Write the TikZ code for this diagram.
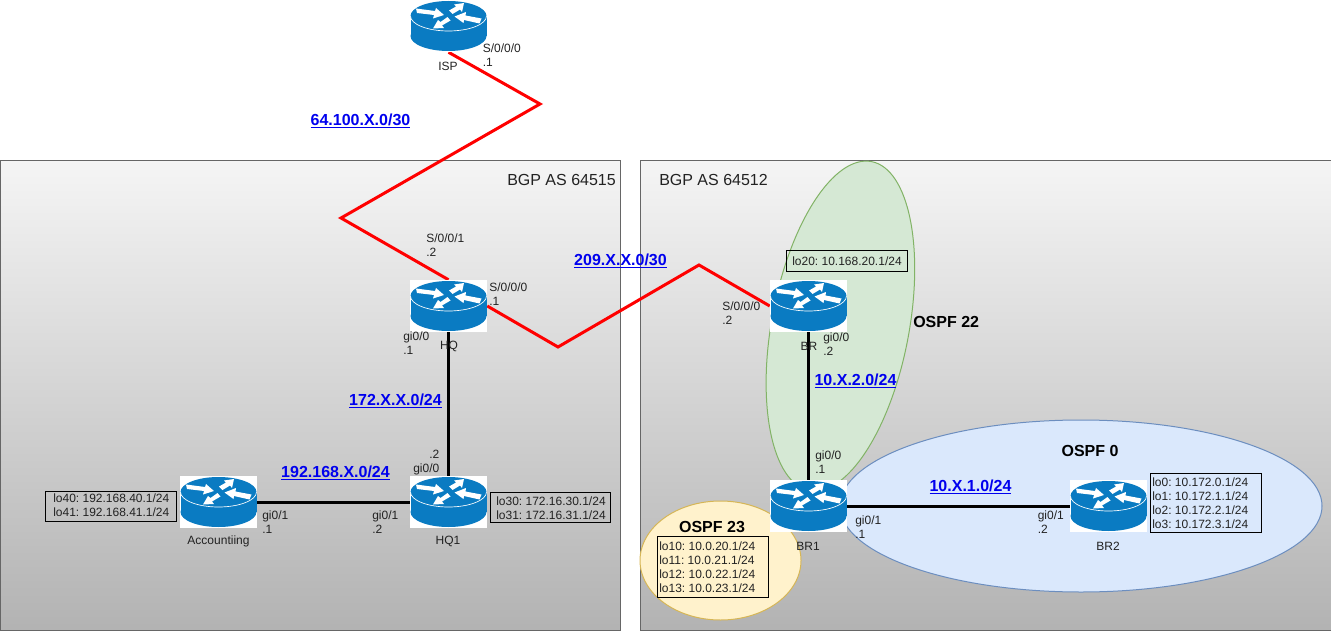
\documentclass[tikz,border=0pt]{standalone}
\usepackage{fontspec}
\setmainfont{Liberation Sans}
\usetikzlibrary{shapes.geometric,backgrounds}
\definecolor{routerblue}{HTML}{0A7BC2}
\definecolor{txt}{HTML}{222222}
\definecolor{netblue}{HTML}{0000EE}
\definecolor{greenfill}{HTML}{D5E8D4}
\definecolor{greenline}{HTML}{82B366}
\definecolor{bluefill}{HTML}{DAE8FC}
\definecolor{blueline}{HTML}{6C8EBF}
\definecolor{yellowfill}{HTML}{FFF2CC}
\definecolor{yellowline}{HTML}{D6B656}
\pgfdeclarelayer{zones}
\pgfdeclarelayer{links}
\pgfsetlayers{zones,links,main}
\frenchspacing
\tikzset{
  aspanel/.style={draw=black!60,line width=0.75pt,rectangle,inner sep=0pt,top color=white!96!black,bottom color=black!30,anchor=north west},
  ospfzone/.style={ellipse,inner sep=0pt,line width=0.75pt},
  routerbox/.style={rectangle,fill=white,minimum width=57.75pt,minimum height=39pt,inner sep=0pt},
  rarrow/.style={fill=white,draw=none},
  wanlink/.style={draw=red,line width=2.25pt,line join=miter},
  lanlink/.style={draw=black,line width=2.25pt},
  iflabel/.style={font=\fontsize{9}{10.5}\selectfont,text=txt,align=left,anchor=north west,inner sep=0pt},
  routername/.style={font=\fontsize{9}{10.5}\selectfont,text=txt,inner sep=0pt},
  netlabel/.style={font=\fontsize{12}{14}\selectfont\bfseries,text=netblue,inner sep=0pt},
  arealabel/.style={font=\fontsize{12}{14}\selectfont\bfseries,text=black,inner sep=0pt},
  aslabel/.style={font=\fontsize{12}{14}\selectfont,text=txt,anchor=west,inner sep=0pt},
  loopbox/.style={draw=black,line width=0.75pt,rectangle,inner sep=0pt,anchor=north west},
  routerglyph/.pic={
    \fill[routerblue] (0,10) ellipse [x radius=38,y radius=15];
    \fill[routerblue] (-38,-10) rectangle (38,10);
    \fill[routerblue] (0,-10) ellipse [x radius=38,y radius=15];
    \draw[white,line width=0.5pt] (-38,-10) .. controls (-38,-1.7) and (-21,5) .. (0,5) .. controls (21,5) and (38,-1.7) .. (38,-10);
    % the four arrows on the top face
    \fill[rarrow] (-32.5,-17.5) -- (-13.5,-15) -- (-12.5,-18) -- (-4.5,-11) -- (-15.5,-7.5) -- (-14.5,-11) -- (-31.5,-13) -- cycle;
    \fill[rarrow] (0.5,-15.5) -- (7.5,-19.5) -- (5.5,-21.5) -- (15.5,-23) -- (13.5,-14) -- (11.5,-16.5) -- (4,-12) -- cycle;
    \fill[rarrow] (33,-7.5) -- (17,-10.5) -- (17.5,-14) -- (6,-9.5) -- (15,-3) -- (15.5,-6) -- (31,-2.5) -- cycle;
    \fill[rarrow] (-1,-9) -- (-8,-4) -- (-10.5,-6) -- (-15.5,2.5) -- (-4.5,2) -- (-6.5,-0.5) -- (2,-5.5) -- cycle;
  }
}
\newcommand{\routerat}[2]{\node[routerbox] (#1) at (#2) {}; \pic at (#1) {routerglyph};}
\begin{document}
\begin{tikzpicture}[x=0.75pt,y=-0.75pt]
\useasboundingbox (0,0) rectangle (1331,631);

% autonomous systems and OSPF areas
\begin{pgfonlayer}{zones}
  \node[aspanel,minimum width=465pt,minimum height=352.5pt] (asleft) at (0,160) {};
  \node[aspanel,minimum width=519.5pt,minimum height=352.5pt] (asright) at (640,160) {};
  \node[ospfzone,draw=greenline,fill=greenfill,rotate=79.3,minimum width=251pt,minimum height=103pt] (ospfa) at (840.4,326) {};
  \node[ospfzone,draw=blueline,fill=bluefill,minimum width=361.5pt,minimum height=129pt] (ospfb) at (1081,506) {};
  \node[ospfzone,draw=yellowline,fill=yellowfill,minimum width=120.75pt,minimum height=89.25pt] (ospfc) at (720.5,560.5) {};
\end{pgfonlayer}

% routers
\routerat{ISP}{448.5,26}
\routerat{HQ}{448.5,306}
\routerat{HQone}{448.5,502}
\routerat{Acc}{218.5,502}
\routerat{BR}{808.5,306}
\routerat{BRone}{808.5,506}
\routerat{BRtwo}{1108.5,506}

\coordinate (ispa) at (540,104);
\coordinate (ispb) at (341,218);
\coordinate (wana) at (558,347);
\coordinate (wanb) at (699,265);

% links
\begin{pgfonlayer}{links}
  \draw[wanlink] (ISP.south) -- (ispa) -- (ispb) -- (HQ.north);
  \draw[wanlink] (HQ.east) -- (wana) -- (wanb) -- (BR.west);
  \draw[lanlink] (HQ.south) -- (HQone.north);
  \draw[lanlink] (Acc.east) -- (HQone.west);
  \draw[lanlink] (BR.south) -- (BRone.north);
  \draw[lanlink] (BRone.east) -- (BRtwo.west);
\end{pgfonlayer}

% router names
\node[routername] (nISP) at (448,66) {ISP};
\node[routername] (nHQ) at (449,346) {HQ};
\node[routername] (nHQone) at (448,541) {HQ1};
\node[routername] (nAcc) at (218.5,541) {Accountiing};
\node[routername] (nBR) at (809,346) {BR};
\node[routername] (nBRone) at (808,546) {BR1};
\node[routername] (nBRtwo) at (1108,546) {BR2};

% interface labels
\node[iflabel] (i1) at (482.5,44) {S/0/0/0\\.1};
\node[iflabel] (i2) at (426,234) {S/0/0/1\\.2};
\node[iflabel] (i3) at (489,283) {S/0/0/0\\.1};
\node[iflabel] (i4) at (403,332) {gi0/0\\.1};
\node[iflabel] (i5) at (413,450) {\hspace*{12pt}.2\\gi0/0};
\node[iflabel] (i6) at (262,511) {gi0/1\\.1};
\node[iflabel] (i7) at (372,511) {gi0/1\\.2};
\node[iflabel] (i8) at (722,302) {S/0/0/0\\.2};
\node[iflabel] (i9) at (823,333) {gi0/0\\.2};
\node[iflabel] (i10) at (815,451) {gi0/0\\.1};
\node[iflabel] (i11) at (855,516) {gi0/1\\.1};
\node[iflabel] (i12) at (1037.5,511) {gi0/1\\.2};

% network labels
\node[netlabel] (n1) at (360.5,121) {\underline{64.100.X.0/30}};
\node[netlabel] (n2) at (620.5,261) {\underline{209.X.X.0/30}};
\node[netlabel] (n3) at (395.5,401) {\underline{172.X.X.0/24}};
\node[netlabel] (n4) at (335.5,473) {\underline{192.168.X.0/24}};
\node[netlabel] (n5) at (855.5,381) {\underline{10.X.2.0/24}};
\node[netlabel] (n6) at (970.5,487) {\underline{10.X.1.0/24}};

% area and AS titles
\node[aslabel] (a1) at (507,180) {BGP AS 64515};
\node[aslabel] (a2) at (659,180) {BGP AS 64512};
\node[arealabel,anchor=west] (a3) at (913,322) {OSPF 22};
\node[arealabel] (a4) at (1090,451) {OSPF 0};
\node[arealabel] (a5) at (712,527) {OSPF 23};

% loopback tables
\node[loopbox,minimum width=98.25pt,minimum height=22.5pt] (l1) at (45,491) {};
\node[iflabel] (t1) at (53,494) {lo40: 192.168.40.1/24\\lo41: 192.168.41.1/24};
\node[loopbox,minimum width=90pt,minimum height=22.5pt] (l2) at (490,492) {};
\node[iflabel] (t2) at (496,497) {lo30: 172.16.30.1/24\\lo31: 172.16.31.1/24};
\node[loopbox,minimum width=90.5pt,minimum height=15.75pt] (l3) at (786,250) {};
\node[iflabel] (t3) at (792,257) {lo20: 10.168.20.1/24};
\node[loopbox,minimum width=83.25pt,minimum height=44.5pt] (l4) at (1150,472.5) {};
\node[iflabel] (t4) at (1152,478) {lo0: 10.172.0.1/24\\lo1: 10.172.1.1/24\\lo2: 10.172.2.1/24\\lo3: 10.172.3.1/24};
\node[loopbox,minimum width=83.25pt,minimum height=45.75pt] (l5) at (657,536) {};
\node[iflabel] (t5) at (659,542) {lo10: 10.0.20.1/24\\lo11: 10.0.21.1/24\\lo12: 10.0.22.1/24\\lo13: 10.0.23.1/24};
\end{tikzpicture}
\end{document}
